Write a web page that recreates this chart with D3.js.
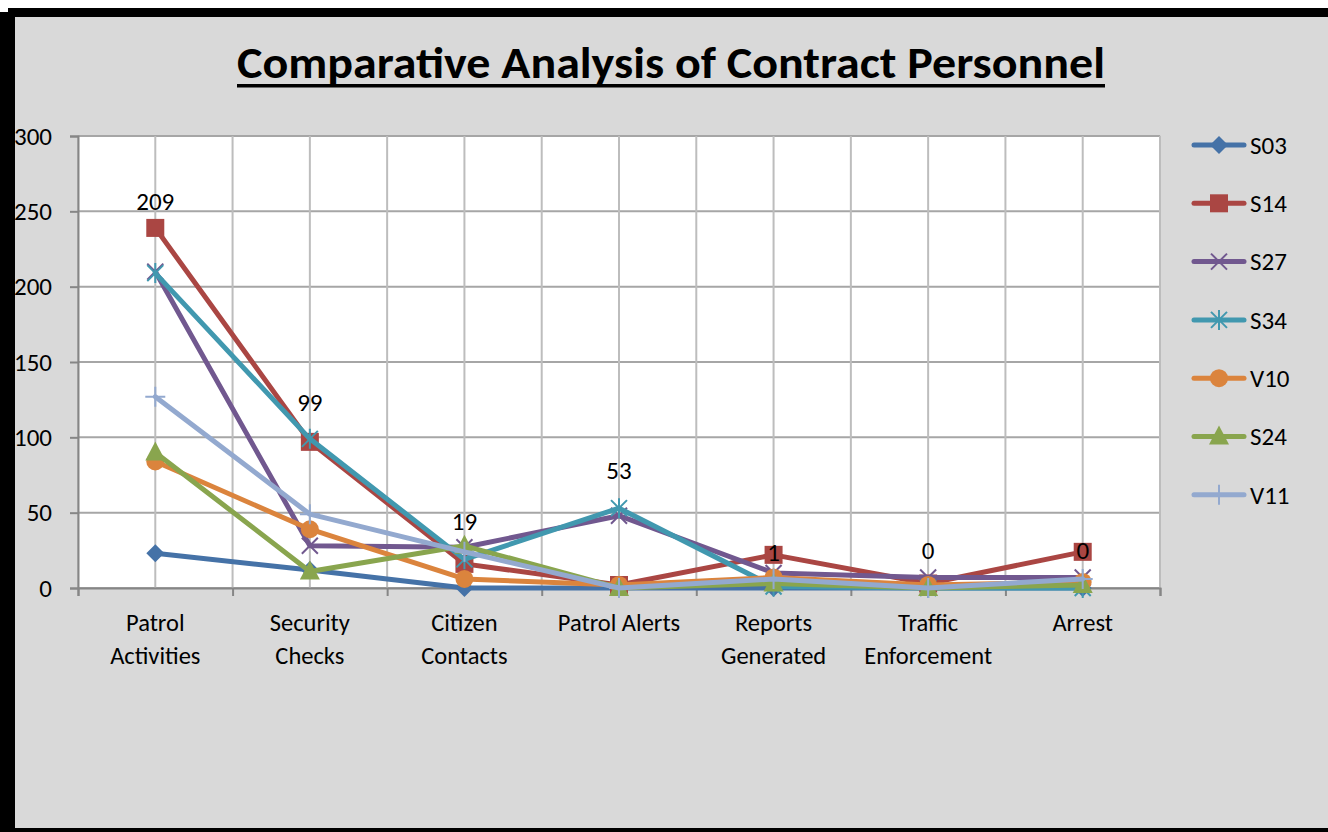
<!DOCTYPE html>
<html>
<head>
<meta charset="utf-8">
<script src="https://cdn.jsdelivr.net/npm/d3@7"></script>
<style>
  html, body { margin: 0; padding: 0; background: #ffffff; }
  svg { display: block; }
  text { font-family: Carlito, "Open Sans", "Noto Sans", sans-serif; }
</style>
</head>
<body>
<svg id="chart" width="1328" height="832"></svg>
<script>
const title = "Comparative Analysis of Contract Personnel";
const categories = [["Patrol", "Activities"], ["Security", "Checks"], ["Citizen", "Contacts"], ["Patrol Alerts"], ["Reports", "Generated"], ["Traffic", "Enforcement"], ["Arrest"]];
const yTicks = [0, 50, 100, 150, 200, 250, 300];

const seriesNames = ["S03", "S14", "S27", "S34", "V10", "S24", "V11"];
const S03 = [23, 12, 0, 0, 0, 0, 0];
const S14 = [239, 97, 16, 2, 22, 3, 24];
const S27 = [210, 28, 27, 48, 10, 7, 7];
const S34 = [209, 99, 19, 53, 1, 0, 0];
const V10 = [84, 39, 6, 2, 7, 2, 4];
const S24 = [90, 11, 28, 0, 3, 0, 2];
const V11 = [127, 49, 24, 0, 6, 0, 6];
const seriesValues = [S03, S14, S27, S34, V10, S24, V11];
const seriesColors = ["#4572A7", "#AA4643", "#71588F", "#4198AF", "#DB843D", "#89A54E", "#93A9CF"];
const seriesMarkers = ["diamond", "square", "x", "star", "circle", "triangle", "plus"];

// data labels (values of S34) and the level, in data units, where each label sits
const labelValues = [209, 99, 19, 53, 1, 0, 0];
const labelLevels = [257, 123, 44, 78, 24, 25, 25];

(function () {
const svg = d3.select("#chart");
const W = 1328, H = 832;
const FS = 25;

// background & frame
svg.append("rect").attr("x", 0).attr("y", 0).attr("width", W).attr("height", H).attr("fill", "#ffffff");
svg.append("rect").attr("x", 8).attr("y", 10).attr("width", W - 8).attr("height", H - 10).attr("fill", "#d9d9d9");
svg.append("rect").attr("x", 8).attr("y", 8).attr("width", W - 8).attr("height", 9).attr("fill", "#000");
svg.append("rect").attr("x", 0).attr("y", 12).attr("width", 15).attr("height", H - 12).attr("fill", "#000");
svg.append("rect").attr("x", 0).attr("y", 828).attr("width", W).attr("height", 4).attr("fill", "#000");

// title
const tText = svg.append("text")
  .attr("x", 671).attr("y", 78)
  .attr("text-anchor", "middle")
  .attr("font-weight", "bold")
  .attr("font-size", 44)
  .attr("fill", "#000")
  .text(title);
const targetW = 868;
tText.attr("textLength", targetW).attr("lengthAdjust", "spacingAndGlyphs");
svg.append("rect").attr("x", 671 - targetW / 2).attr("y", 84).attr("width", targetW).attr("height", 3.5).attr("fill", "#000");

// plot area
const pLeft = 78, pRight = 1160, pTop = 136, pBottom = 588;
const x = d3.scaleBand().domain(d3.range(categories.length)).range([pLeft, pRight]).paddingInner(0).paddingOuter(0);
const y = d3.scaleLinear().domain([0, 300]).range([pBottom, pTop]);
const cx = i => x(i) + x.bandwidth() / 2;

svg.append("rect").attr("x", pLeft).attr("y", pTop).attr("width", pRight - pLeft).attr("height", pBottom - pTop)
  .attr("fill", "#ffffff").attr("stroke", "#bfbfbf").attr("stroke-width", 1);

// gridlines: horizontal
svg.append("g").selectAll("line").data(yTicks).join("line")
  .attr("x1", pLeft).attr("x2", pRight)
  .attr("y1", d => y(d)).attr("y2", d => y(d))
  .attr("stroke", "#a6a6a6").attr("stroke-width", 2);

// gridlines: vertical at category boundaries and centres
const vGrid = [];
categories.forEach((c, i) => { vGrid.push(x(i)); vGrid.push(cx(i)); });
vGrid.push(pRight);
svg.append("g").selectAll("line").data(vGrid).join("line")
  .attr("x1", d => d).attr("x2", d => d)
  .attr("y1", pTop).attr("y2", pBottom)
  .attr("stroke", "#bdbdbd").attr("stroke-width", 2);

// y axis
const yAxis = d3.axisLeft(y).tickValues(yTicks).tickSize(8).tickPadding(18);
const gy = svg.append("g").attr("transform", `translate(${pLeft},0)`).call(yAxis);
gy.select(".domain").attr("stroke", "#868686").attr("stroke-width", 2);
gy.selectAll(".tick line").attr("stroke", "#868686").attr("stroke-width", 2);
gy.selectAll(".tick text").attr("font-size", FS).attr("fill", "#000")
  .attr("font-family", 'Carlito, "Open Sans", "Noto Sans", sans-serif');

// x axis
const xb = d3.scaleLinear().domain([0, categories.length]).range([pLeft, pRight]);
const xAxis = d3.axisBottom(xb).tickValues(d3.range(categories.length + 1)).tickSize(8).tickFormat("");
const gx = svg.append("g").attr("transform", `translate(0,${pBottom})`).call(xAxis);
gx.select(".domain").attr("stroke", "#868686").attr("stroke-width", 2);
gx.selectAll(".tick line").attr("stroke", "#868686").attr("stroke-width", 2);

const catG = svg.append("g");
categories.forEach((lines, i) => {
  const t = catG.append("text").attr("x", cx(i)).attr("y", 631).attr("text-anchor", "middle")
    .attr("font-size", 24.5).attr("fill", "#000");
  lines.forEach((ln, k) => {
    t.append("tspan").attr("x", cx(i)).attr("dy", k === 0 ? 0 : 33).text(ln);
  });
});

// marker drawing
function drawMarker(g, type, color, px, py) {
  const m = g.append("g").attr("transform", `translate(${px},${py})`);
  if (type === "diamond") {
    m.append("path").attr("d", "M0,-9L9,0L0,9L-9,0Z").attr("fill", color);
  } else if (type === "square") {
    m.append("rect").attr("x", -9).attr("y", -9).attr("width", 18).attr("height", 18).attr("fill", color);
  } else if (type === "x") {
    m.append("path").attr("d", "M-8,-8L8,8M-8,8L8,-8").attr("stroke", color).attr("stroke-width", 2).attr("fill", "none");
  } else if (type === "star") {
    m.append("path").attr("d", "M-8,-8L8,8M-8,8L8,-8M0,-10L0,10").attr("stroke", color).attr("stroke-width", 2).attr("fill", "none");
  } else if (type === "circle") {
    m.append("circle").attr("r", 9).attr("fill", color);
  } else if (type === "triangle") {
    m.append("path").attr("d", "M0,-11L10,8L-10,8Z").attr("fill", color);
  } else if (type === "plus") {
    m.append("path").attr("d", "M-10,0L10,0M0,-10L0,10").attr("stroke", color).attr("stroke-width", 2).attr("fill", "none");
  }
}

// series
const line = d3.line().x((d, i) => cx(i)).y(d => y(d));
const seriesG = svg.append("g");
seriesValues.forEach((vals, s) => {
  const g = seriesG.append("g");
  g.append("path").datum(vals).attr("d", line)
    .attr("fill", "none").attr("stroke", seriesColors[s]).attr("stroke-width", 5)
    .attr("stroke-linejoin", "round").attr("stroke-linecap", "round");
  vals.forEach((v, i) => drawMarker(g, seriesMarkers[s], seriesColors[s], cx(i), y(v)));
});

// data labels
svg.append("g").selectAll("text").data(labelValues).join("text")
  .attr("x", (d, i) => cx(i))
  .attr("y", (d, i) => y(labelLevels[i]))
  .attr("dy", "0.35em")
  .attr("text-anchor", "middle")
  .attr("font-size", FS).attr("fill", "#000")
  .text(d => d);

// legend
const legG = svg.append("g");
seriesNames.forEach((name, s) => {
  const ly = 145 + s * 58.3;
  legG.append("line").attr("x1", 1194).attr("x2", 1244).attr("y1", ly).attr("y2", ly)
    .attr("stroke", seriesColors[s]).attr("stroke-width", 5).attr("stroke-linecap", "round");
  drawMarker(legG, seriesMarkers[s], seriesColors[s], 1219, ly);
  legG.append("text").attr("x", 1250).attr("y", ly).attr("dy", "0.35em")
    .attr("font-size", FS).attr("fill", "#000").text(name);
});
})();
</script>
</body>
</html>
